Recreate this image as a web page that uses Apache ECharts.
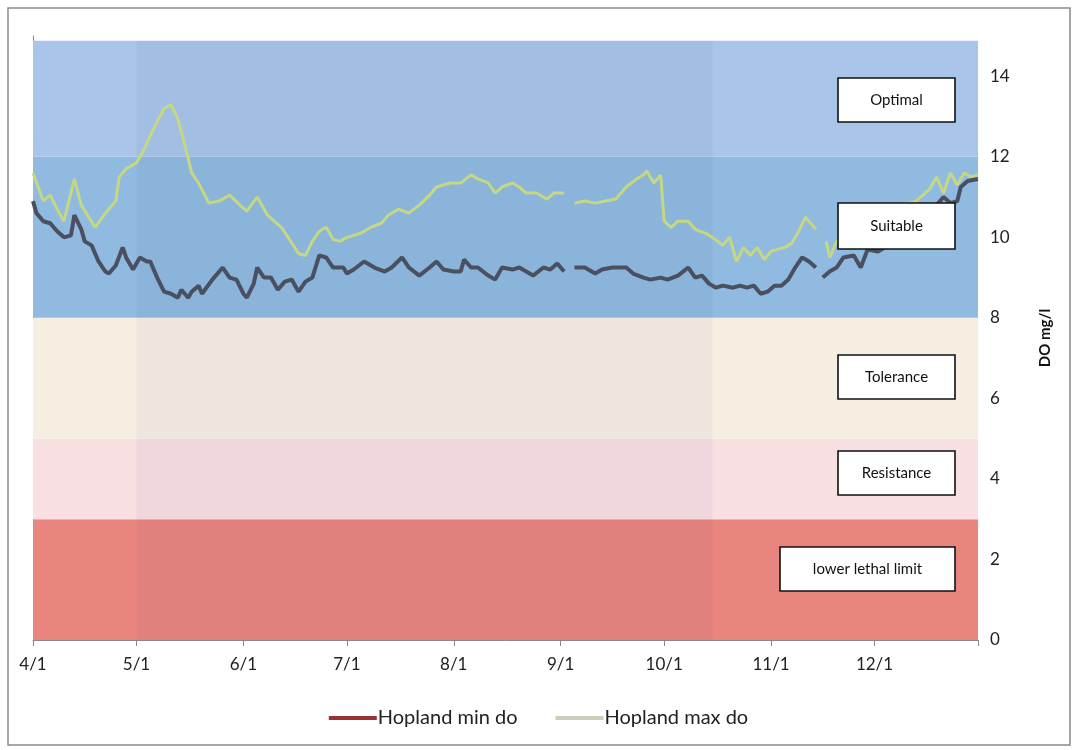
<!DOCTYPE html>
<html>
<head>
<meta charset="utf-8">
<script src="https://cdn.jsdelivr.net/npm/echarts@6/dist/echarts.min.js"></script>
<style>
html,body{margin:0;padding:0;background:#fff;}
#chart{width:1077px;height:750px;}
</style>
</head>
<body>
<div id="chart"></div>
<script>
// x = days since 4/1
const monthTickDays = [0, 30, 61, 91, 122, 153, 183, 214, 244];
const monthLabels = ['4/1', '5/1', '6/1', '7/1', '8/1', '9/1', '10/1', '11/1', '12/1'];
const axisEndDay = 274;

const maxDays = [0,3,5,7,9,12,14,18,21,24,25,27,30,32,35,38,40,42,44,46,48,51,54,57,60,62,65,68,72,74,77,79,81,83,85,87,89,91,93,95,98,101,103,106,109,112,115,117,121,124,127,129,132,134,136,139,141,143,146,149,151,154,155,157,160,163,166,169,172,175,177,178,180,182,183,185,187,190,192,195,197,200,202,204,206,208,210,212,214,216,218,220,222,224,226,227,228,230,231,233,236,240,244,248,252,256,260,262,264,266,268,270,272,274];
const maxVals = [11.6,10.9,11.05,10.7,10.4,11.45,10.8,10.25,10.6,10.9,11.5,11.7,11.85,12.15,12.7,13.2,13.3,12.95,12.3,11.6,11.35,10.85,10.9,11.05,10.8,10.65,11.0,10.55,10.25,10.0,9.6,9.55,9.9,10.15,10.25,9.95,9.9,10.0,10.05,10.1,10.25,10.35,10.55,10.7,10.6,10.8,11.05,11.25,11.35,11.35,11.55,11.45,11.35,11.1,11.25,11.35,11.25,11.1,11.1,10.95,11.1,11.1,null,10.85,10.9,10.85,10.9,10.95,11.25,11.45,11.55,11.65,11.35,11.55,10.4,10.25,10.4,10.4,10.2,10.1,10.0,9.8,10.0,9.4,9.75,9.55,9.75,9.45,9.65,9.7,9.75,9.85,10.15,10.5,10.3,10.2,null,9.9,9.5,9.9,10.0,10.2,10.4,10.6,10.8,10.9,11.2,11.5,11.1,11.6,11.3,11.6,11.5,11.55];

const minDays = [0,1,3,5,7,9,11,12,14,15,17,19,21,22,24,26,27,29,31,33,34,36,38,40,42,43,45,46,48,49,52,55,57,59,61,62,64,65,67,69,71,73,75,77,79,81,83,85,87,90,91,93,96,99,102,104,107,109,112,115,117,119,122,124,125,127,129,132,134,136,139,141,145,148,150,152,154,155,157,160,163,165,168,172,174,177,179,182,184,187,190,192,194,196,198,200,203,205,207,209,211,213,215,217,219,221,223,225,227,228,229,231,233,235,238,240,242,245,248,252,256,260,263,264,266,268,269,271,274];
const minVals = [10.9,10.6,10.4,10.35,10.15,10.0,10.05,10.55,10.2,9.9,9.8,9.4,9.15,9.1,9.3,9.75,9.5,9.2,9.5,9.4,9.4,9.0,8.65,8.6,8.5,8.7,8.5,8.65,8.8,8.6,8.95,9.25,9.0,8.95,8.6,8.5,8.85,9.25,9.0,9.0,8.7,8.9,8.95,8.65,8.9,9.0,9.55,9.5,9.25,9.25,9.1,9.2,9.4,9.25,9.15,9.25,9.5,9.25,9.05,9.25,9.4,9.2,9.15,9.15,9.45,9.25,9.25,9.05,8.95,9.25,9.2,9.25,9.05,9.25,9.2,9.35,9.15,null,9.25,9.25,9.1,9.2,9.25,9.25,9.1,9.0,8.95,9.0,8.95,9.05,9.25,9.0,9.05,8.85,8.75,8.8,8.75,8.8,8.75,8.8,8.6,8.65,8.8,8.8,8.95,9.25,9.5,9.4,9.25,null,9.0,9.15,9.25,9.5,9.55,9.25,9.7,9.65,9.8,10.0,10.3,10.6,10.9,11.0,10.85,10.9,11.25,11.4,11.45];

// habitat bands (mg/l)
const bandNames = ['lower lethal limit', 'Resistance', 'Tolerance', 'Suitable', 'Optimal'];
const bandFrom = [0, 3, 5, 8, 12];
const bandTo = [3, 5, 8, 12, 14.88];
const bandColors = ['#e9857f', '#f8dfe2', '#f7eee2', '#90bae0', '#a9c5e9'];
// darker shaded period
const shadeFrom = 30, shadeTo = 197;

const yTicks = [0, 2, 4, 6, 8, 10, 12, 14];

function pairs(days, vals) {
  return days.map((d, i) => [d, vals[i] === null ? '-' : vals[i]]);
}

const chart = echarts.init(document.getElementById('chart'), null, {renderer: 'canvas'});

const FONT = 'Lato, "Open Sans", sans-serif';

const bandAreas = bandNames.map((n, i) => [
  {yAxis: bandFrom[i], xAxis: 0, itemStyle: {color: bandColors[i]}},
  {yAxis: bandTo[i], xAxis: axisEndDay}
]);
bandAreas.push([
  {yAxis: 0, xAxis: shadeFrom, itemStyle: {color: 'rgba(50,40,110,0.045)'}},
  {yAxis: bandTo[4], xAxis: shadeTo}
]);

// label boxes (pixel layout)
const boxes = [
  {text: 'Optimal', x: 838, y: 78, w: 117, h: 44},
  {text: 'Suitable', x: 838, y: 203, w: 117, h: 46},
  {text: 'Tolerance', x: 838, y: 355, w: 117, h: 44},
  {text: 'Resistance', x: 838, y: 451, w: 117, h: 44},
  {text: 'lower lethal limit', x: 780, y: 547, w: 175, h: 44}
];
const graphics = [{
  type: 'rect', z: 200, silent: true,
  shape: {x: 8, y: 8, width: 1062, height: 737},
  style: {fill: 'none', stroke: '#8a8a8a', lineWidth: 1.5}
}];
boxes.forEach(b => {
  graphics.push({
    type: 'rect', z: 150, silent: true,
    shape: {x: b.x, y: b.y, width: b.w, height: b.h},
    style: {fill: '#ffffff', stroke: '#111111', lineWidth: 1.6}
  });
  graphics.push({
    type: 'text', z: 151, silent: true,
    x: b.x + b.w / 2, y: b.y + b.h / 2,
    style: {text: b.text, fill: '#111111', fontSize: 15, fontFamily: FONT, textAlign: 'center', textVerticalAlign: 'middle'}
  });
});

chart.setOption({
  animation: false,
  backgroundColor: '#ffffff',
  grid: {left: 33, right: 99, top: 36, bottom: 110, containLabel: false},
  xAxis: {
    type: 'value', min: 0, max: axisEndDay,
    splitLine: {show: false},
    axisLine: {show: true, lineStyle: {color: '#888', width: 1}},
    axisTick: {show: true, length: 6, lineStyle: {color: '#888'}, customValues: monthTickDays.concat([axisEndDay])},
    axisLabel: {
      customValues: monthTickDays,
      formatter: v => monthLabels[monthTickDays.indexOf(v)] || '',
      color: '#222', fontSize: 17, fontFamily: FONT, margin: 16
    }
  },
  yAxis: {
    type: 'value', position: 'right', min: 0, max: 15, interval: 2,
    name: 'DO mg/l', nameLocation: 'middle', nameRotate: 90, nameGap: 60,
    nameTextStyle: {color: '#111', fontSize: 15, fontWeight: 'bold', fontFamily: FONT},
    splitLine: {show: false},
    axisLine: {show: true, lineStyle: {color: '#888', width: 1}},
    axisTick: {show: true, length: 5, inside: false, lineStyle: {color: '#888'}, customValues: yTicks},
    axisLabel: {customValues: yTicks, color: '#222', fontSize: 17, fontFamily: FONT, margin: 12}
  },
  legend: {
    bottom: 17, left: 'center', itemGap: 38, itemWidth: 48, itemHeight: 4, icon: 'rect',
    textStyle: {color: '#222', fontSize: 20, fontFamily: FONT, padding: [0, 0, 0, -4]},
    data: [
      {name: 'Hopland min do', itemStyle: {color: '#993333'}, lineStyle: {color: '#993333'}},
      {name: 'Hopland max do', itemStyle: {color: '#c9cfb9'}, lineStyle: {color: '#c9cfb9'}}
    ]
  },
  graphic: {elements: graphics},
  series: [
    {
      name: 'bands', type: 'line', data: [], silent: true, z: 1,
      markArea: {silent: true, data: bandAreas, label: {show: false}}
    },
    {
      name: 'Hopland max do', type: 'line', data: pairs(maxDays, maxVals), z: 3,
      showSymbol: false, symbol: 'none', connectNulls: false,
      lineStyle: {color: '#c6d783', width: 3}, itemStyle: {color: '#c6d783'}
    },
    {
      name: 'Hopland min do', type: 'line', data: pairs(minDays, minVals), z: 4,
      showSymbol: false, symbol: 'none', connectNulls: false,
      lineStyle: {color: '#4a5060', width: 4}, itemStyle: {color: '#4a5060'}
    }
  ]
});
</script>
</body>
</html>
